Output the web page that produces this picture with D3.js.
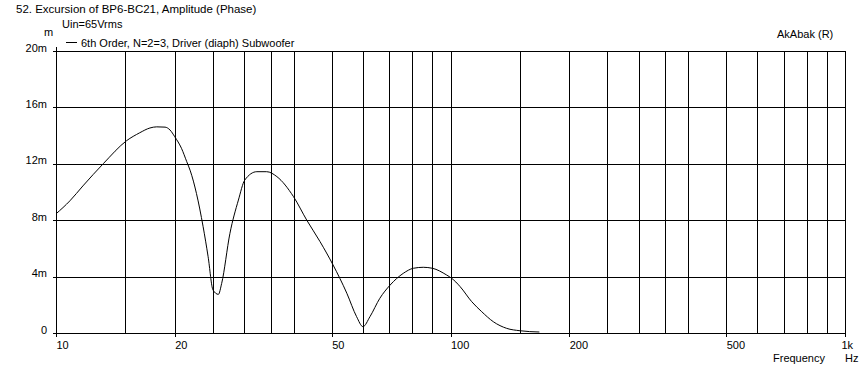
<!DOCTYPE html>
<html>
<head>
<meta charset="utf-8">
<script src="https://cdn.jsdelivr.net/npm/d3@7"></script>
<style>
  body { margin: 0; background: #fff; }
  svg text { font-family: "Liberation Sans", Arial, sans-serif; font-size: 11px; fill: #000; }
  .grid line, .axis line, .axis path { stroke: #000; shape-rendering: crispEdges; }
  .grid path { display: none; }
</style>
</head>
<body>
<div id="chart"></div>
<script>
// excursion curve (Hz, mm)
var freqs = [10, 10.85, 11.7, 13.2, 15.1, 16.3, 17.3, 18, 18.9, 19.45, 20, 20.8, 21.45, 21.9, 22.7, 23.6, 24.3, 25, 25.8,
             26.3, 27.6, 29, 30.1, 32.3, 34.2, 36.3, 40, 43.2, 46.7, 50.4, 54.6, 57.8, 60,
             62.5, 66.2, 70.3, 75.9, 80.5, 85.3, 90, 97.8, 100.7, 105.7, 113.2, 120, 128.4, 138.8, 150, 168];
var excursion = [8.45, 9.38, 10.43, 12.03, 13.64, 14.2, 14.54, 14.62, 14.6, 14.4, 13.92, 13.1, 12.15, 11.5, 9.9, 7.54, 5.41, 3.05, 2.74,
                 3.52, 7.07, 9.43, 10.85, 11.44, 11.44, 11.09, 9.67, 8.01, 6.48, 4.82, 2.82, 1.16, 0.45,
                 1.16, 2.46, 3.4, 4.23, 4.59, 4.66, 4.59, 4.11, 3.88, 3.3, 2.22, 1.51, 0.8, 0.33, 0.16, 0.07];

var gridFreqs = [10, 15, 20, 25, 30, 35, 40, 50, 60, 70, 80, 90, 100, 150, 200, 250, 300, 350, 400,
                 500, 600, 700, 800, 900, 1000];
var xTickVals = [10, 20, 50, 100, 200, 500, 1000];
var xTickLabels = ["10", "20", "50", "100", "200", "500", "1k"];
var yTickVals = [0, 4, 8, 12, 16, 20];

var title = "52. Excursion of BP6-BC21, Amplitude (Phase)";
var subtitle = "Uin=65Vrms";
var seriesName = "6th Order, N=2=3, Driver (diaph) Subwoofer";

var widthT = 867, heightT = 371;
var margin = {top: 51, right: 22, bottom: 38, left: 56},
    width = widthT - margin.left - margin.right,
    height = heightT - margin.top - margin.bottom;

var svg = d3.select("#chart")
    .append("svg")
    .attr("width", widthT)
    .attr("height", heightT);

var x = d3.scaleLog().domain([10, 1000]).range([0, width]),
    y = d3.scaleLinear().domain([0, 20]).range([height, 0]);

var plot = svg.append("g")
    .attr("transform", "translate(" + margin.left + "," + margin.top + ")");

// vertical grid
plot.append("g")
    .attr("class", "grid")
    .call(d3.axisBottom(x).tickValues(gridFreqs).tickSize(-height).tickFormat(""))
    .attr("transform", "translate(0," + height + ")");

// horizontal grid
plot.append("g")
    .attr("class", "grid")
    .call(d3.axisLeft(y).tickValues(yTickVals).tickSize(-width).tickFormat(""));

// x axis ticks + labels (left aligned at tick)
var xAxis = plot.append("g")
    .attr("class", "axis")
    .attr("transform", "translate(0," + height + ")")
    .call(d3.axisBottom(x).tickValues(xTickVals).tickSize(4).tickPadding(4)
          .tickFormat(function(d, i) { return xTickLabels[i]; }));
xAxis.select(".domain").remove();
xAxis.selectAll("text")
    .attr("text-anchor", "start")
    .attr("dy", "0.71em")
    .attr("dx", function(d) { return d === 1000 ? -4 : 0; });

// y axis ticks + labels
var yAxis = plot.append("g")
    .attr("class", "axis")
    .call(d3.axisLeft(y).tickValues(yTickVals).tickSize(3).tickPadding(6)
          .tickFormat(function(d) { return d === 0 ? "0" : d + "m"; }));
yAxis.select(".domain").remove();
yAxis.selectAll("text").attr("dy", "0");

// axis lines, slightly overshooting like the original
plot.append("line")
    .attr("x1", x(10)).attr("x2", x(10))
    .attr("y1", y(20) - 4).attr("y2", y(0) + 4)
    .attr("stroke", "#000").attr("shape-rendering", "crispEdges");
plot.append("line")
    .attr("x1", x(10)).attr("x2", x(1000))
    .attr("y1", y(0)).attr("y2", y(0))
    .attr("stroke", "#000").attr("shape-rendering", "crispEdges");

// curve
var line = d3.line()
    .curve(d3.curveMonotoneX)
    .x(function(d, i) { return x(freqs[i]); })
    .y(function(d) { return y(d); });

plot.append("path")
    .datum(excursion)
    .attr("fill", "none")
    .attr("stroke", "#000")
    .attr("stroke-width", 1)
    .attr("d", line);

// texts
svg.append("text").attr("x", 16).attr("y", 13).style("font-size", "11.5px").text(title);
svg.append("text").attr("x", 62).attr("y", 28).text(subtitle);
svg.append("text").attr("x", 44).attr("y", 36).text("m");
svg.append("line")
    .attr("x1", 66).attr("x2", 77).attr("y1", 42.5).attr("y2", 42.5)
    .attr("stroke", "#000");
svg.append("text").attr("x", 81).attr("y", 47).text(seriesName);
svg.append("text").attr("x", 777).attr("y", 38).text("AkAbak (R)");
svg.append("text").attr("x", 773).attr("y", 362).text("Frequency");
svg.append("text").attr("x", 845).attr("y", 362).text("Hz");
</script>
</body>
</html>
